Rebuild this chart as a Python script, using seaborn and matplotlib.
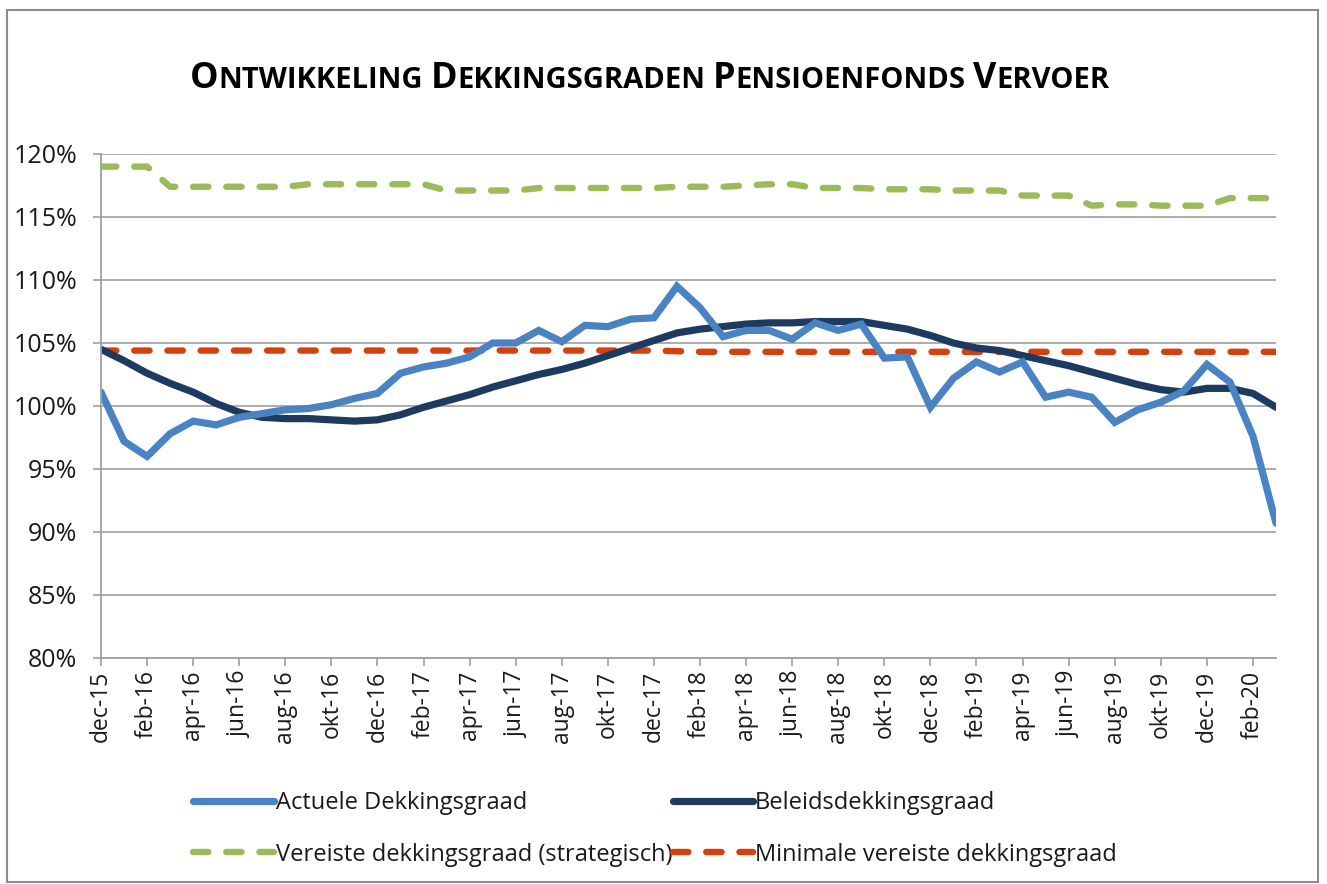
import matplotlib
matplotlib.use("Agg")
import matplotlib.pyplot as plt
from matplotlib.lines import Line2D
from matplotlib.patches import Rectangle
import seaborn as sns
import pandas as pd
import numpy as np

months = ["dec-15","jan-16","feb-16","mrt-16","apr-16","mei-16","jun-16","jul-16","aug-16","sep-16","okt-16","nov-16",
          "dec-16","jan-17","feb-17","mrt-17","apr-17","mei-17","jun-17","jul-17","aug-17","sep-17","okt-17","nov-17",
          "dec-17","jan-18","feb-18","mrt-18","apr-18","mei-18","jun-18","jul-18","aug-18","sep-18","okt-18","nov-18",
          "dec-18","jan-19","feb-19","mrt-19","apr-19","mei-19","jun-19","jul-19","aug-19","sep-19","okt-19","nov-19",
          "dec-19","jan-20","feb-20","mrt-20"]

actuele = [101.1, 97.2, 96.0, 97.8, 98.8, 98.5, 99.1, 99.4, 99.7, 99.8, 100.1, 100.6,
           101.0, 102.6, 103.1, 103.4, 103.9, 105.0, 105.0, 106.0, 105.1, 106.4, 106.3, 106.9,
           107.0, 109.5, 107.8, 105.5, 106.0, 106.0, 105.3, 106.6, 106.0, 106.5, 103.8, 103.9,
           99.9, 102.2, 103.5, 102.7, 103.5, 100.7, 101.1, 100.7, 98.7, 99.7, 100.3, 101.2,
           103.3, 101.9, 97.6, 90.7]

beleids = [104.5, 103.6, 102.6, 101.8, 101.1, 100.2, 99.5, 99.1, 99.0, 99.0, 98.9, 98.8,
           98.9, 99.3, 99.9, 100.4, 100.9, 101.5, 102.0, 102.5, 102.9, 103.4, 104.0, 104.6,
           105.2, 105.8, 106.1, 106.3, 106.5, 106.6, 106.6, 106.7, 106.7, 106.7, 106.4, 106.1,
           105.6, 105.0, 104.6, 104.4, 104.0, 103.6, 103.2, 102.7, 102.2, 101.7, 101.3, 101.1,
           101.4, 101.4, 101.0, 99.9]

vereiste = [119.0, 119.0, 119.0, 117.4, 117.4, 117.4, 117.4, 117.4, 117.4, 117.6, 117.6, 117.6,
            117.6, 117.6, 117.6, 117.1, 117.1, 117.1, 117.1, 117.3, 117.3, 117.3, 117.3, 117.3,
            117.3, 117.4, 117.4, 117.4, 117.5, 117.6, 117.6, 117.3, 117.3, 117.3, 117.2, 117.2,
            117.2, 117.1, 117.1, 117.1, 116.7, 116.7, 116.7, 115.9, 116.0, 116.0, 115.9, 115.9,
            115.9, 116.5, 116.5, 116.5]

minimale = [104.4] * 25 + [104.35] + [104.3] * 26

tick_labels = ["dec-15","feb-16","apr-16","jun-16","aug-16","okt-16","dec-16","feb-17","apr-17","jun-17",
               "aug-17","okt-17","dec-17","feb-18","apr-18","jun-18","aug-18","okt-18","dec-18","feb-19",
               "apr-19","jun-19","aug-19","okt-19","dec-19","feb-20"]

series_names = ["Actuele Dekkingsgraad", "Beleidsdekkingsgraad",
                "Vereiste dekkingsgraad (strategisch)", "Minimale vereiste dekkingsgraad"]
colors = ["#4A83C4", "#1F3A60", "#9BBB59", "#D4400E"]

sns.set_theme(style="white")
plt.rcParams["font.family"] = ["Open Sans", "DejaVu Sans"]

W, H = 1327, 884
fig = plt.figure(figsize=(W / 100, H / 100), dpi=100)
ax = fig.add_axes([101 / W, 1 - 658 / H, (1276 - 101) / W, (658 - 154) / H])

x = np.arange(len(months))
df = pd.DataFrame({"x": x, "a": actuele, "b": beleids, "v": vereiste, "m": minimale})

lw = 5.2
dlw = 4.6
DASH = (2.4, 2.8)
sns.lineplot(data=df, x="x", y="v", ax=ax, color=colors[2], lw=dlw)
l = ax.lines[-1]; l.set_dashes(DASH); l.set_dash_capstyle("round")
sns.lineplot(data=df, x="x", y="m", ax=ax, color=colors[3], lw=dlw)
l = ax.lines[-1]; l.set_dashes(DASH); l.set_dash_capstyle("round")
sns.lineplot(data=df, x="x", y="b", ax=ax, color=colors[1], lw=lw)
ax.lines[-1].set_solid_joinstyle("round")
sns.lineplot(data=df, x="x", y="a", ax=ax, color=colors[0], lw=lw)
ax.lines[-1].set_solid_joinstyle("miter")

ax.set_xlim(0, len(months) - 1)
ax.set_ylim(80, 120)
ax.set_yticks(np.arange(80, 121, 5))
ax.set_yticklabels([f"{v}%" for v in range(80, 121, 5)], fontsize=18, color="#1a1a1a")
ax.set_xticks(x[::2])
ax.set_xticklabels(tick_labels, rotation=90, fontsize=16.5, color="#1a1a1a")
ax.set_xlabel("")
ax.set_ylabel("")
ax.grid(axis="y", color="#A6A6A6", lw=1.3)
ax.set_axisbelow(True)
for s in ["top", "right"]:
    ax.spines[s].set_visible(False)
for s in ["left", "bottom"]:
    ax.spines[s].set_color("#A0A0A0")
    ax.spines[s].set_linewidth(1.3)
ax.tick_params(axis="y", which="major", length=6, width=1.2, color="#A0A0A0",
               left=True, direction="out", pad=11)
ax.tick_params(axis="x", which="major", length=6, width=1.2, color="#A0A0A0",
               bottom=True, direction="out", pad=3)

# Legend
handles = []
for i, (n, c) in enumerate(zip(series_names, colors)):
    h = Line2D([0], [0], color=c, lw=lw if i < 2 else dlw, solid_capstyle="round")
    if i >= 2:
        h.set_dashes(DASH)
        h.set_dash_capstyle("round")
    handles.append(h)
order = [0, 2, 1, 3]
leg = fig.legend([handles[i] for i in order], [series_names[i] for i in order],
                 ncol=2, frameon=False, fontsize=17,
                 loc="upper left", bbox_to_anchor=(184 / W, 1 - 782 / H),
                 handlelength=3.4, handletextpad=0.1, columnspacing=0.0,
                 labelspacing=1.15, borderaxespad=0)
for t in leg.get_texts():
    t.set_color("#1a1a1a")

# Title with small caps
words = ["Ontwikkeling", "Dekkingsgraden", "Pensioenfonds", "Vervoer"]
big, small = 25.8, 21
fig.canvas.draw()
r = fig.canvas.get_renderer()
pieces = []
for wi, w in enumerate(words):
    pieces.append((w[0], big))
    pieces.append((w[1:].upper(), small, wi < len(words) - 1))
texts = []
adv = []
sp = fig.text(0, 0, "A A", fontsize=small, fontweight="bold")
sp2 = fig.text(0, 0, "AA", fontsize=small, fontweight="bold")
space_w = sp.get_window_extent(renderer=r).width - sp2.get_window_extent(renderer=r).width
sp.remove(); sp2.remove()
for p in pieces:
    s, sz = p[0], p[1]
    t = fig.text(0, 0, s, fontsize=sz, fontweight="bold", color="#000000",
                 va="baseline", ha="left")
    bb = t.get_window_extent(renderer=r)
    texts.append(t)
    adv.append(bb.width + (space_w if (len(p) > 2 and p[2]) else 0))
total = sum(adv)
xpix = 650 - total / 2
baseline = H - 88
for t, a in zip(texts, adv):
    t.set_position((xpix / W, baseline / H))
    xpix += a

# outer border
fig.patches.append(Rectangle((7 / W, 2 / H), (1318 - 7) / W, (878 - 6) / H,
                             transform=fig.transFigure, fill=False,
                             edgecolor="#8C8C8C", lw=1.5))

fig.savefig("out.png", dpi=100)
